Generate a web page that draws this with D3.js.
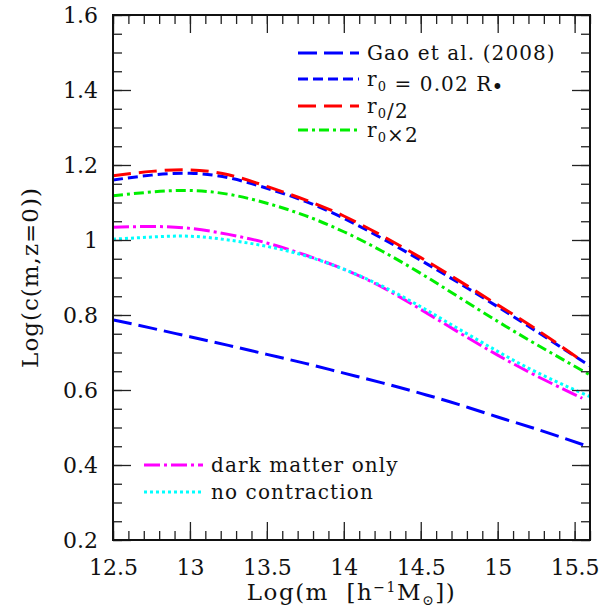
<!DOCTYPE html>
<html>
<head>
<meta charset="utf-8">
<script src="https://cdn.jsdelivr.net/npm/d3@7"></script>
<style>
  body { margin: 0; background: #fff; }
  text { font-family: "DejaVu Serif", serif; fill: #111; }
</style>
</head>
<body>
<div id="chart"></div>
<script>
// ---- data ----
const logM      = [12.5, 12.75, 13, 13.25, 13.5, 13.75, 14, 14.25, 14.5, 14.75, 15, 15.25, 15.6];
const logMShort = [12.5, 12.75, 13, 13.25, 13.5, 13.75, 14, 14.25, 14.5, 14.75, 15, 15.25, 15.55];

const gaoC      = [0.787, 0.765, 0.742, 0.719, 0.695, 0.671, 0.645, 0.619, 0.591, 0.561, 0.528, 0.496, 0.448];
const r0C       = [1.160, 1.173, 1.178, 1.166, 1.138, 1.103, 1.058, 1.004, 0.946, 0.885, 0.822, 0.757, 0.664];
const r0HalfC   = [1.171, 1.183, 1.187, 1.174, 1.143, 1.107, 1.064, 1.011, 0.953, 0.891, 0.827, 0.762, 0.677];
const r0DoubleC = [1.118, 1.128, 1.132, 1.122, 1.098, 1.065, 1.022, 0.970, 0.911, 0.847, 0.783, 0.722, 0.640];
const dmOnlyC   = [1.034, 1.036, 1.031, 1.015, 0.992, 0.960, 0.922, 0.874, 0.815, 0.753, 0.693, 0.638, 0.578];
const noContrC  = [1.002, 1.008, 1.010, 1.000, 0.983, 0.958, 0.922, 0.877, 0.822, 0.762, 0.703, 0.648, 0.582];

const xTicks = [12.5, 13, 13.5, 14, 14.5, 15, 15.5];
const yTicks = [0.2, 0.4, 0.6, 0.8, 1, 1.2, 1.4, 1.6];

// ---- layout ----
const width = 610, height = 614;
const plot = {left: 113, right: 590, top: 15, bottom: 540};

const svg = d3.select("#chart").append("svg")
    .attr("width", width)
    .attr("height", height);

const x = d3.scaleLinear().domain([12.5, 15.6]).range([plot.left, plot.right]);
const y = d3.scaleLinear().domain([0.2, 1.6]).range([plot.bottom, plot.top]);

// clip
svg.append("clipPath").attr("id", "clip")
    .append("rect")
    .attr("x", plot.left).attr("y", plot.top)
    .attr("width", plot.right - plot.left).attr("height", plot.bottom - plot.top);

// series definitions
const series = [
    {m: logM,      c: gaoC,      color: "#0000ff", dash: "19,7"},
    {m: logM,      c: r0C,       color: "#0000ff", dash: "10,5"},
    {m: logMShort, c: r0HalfC,   color: "#ff0000", dash: "18,8"},
    {m: logM,      c: r0DoubleC, color: "#00ee00", dash: "10,4,3,4"},
    {m: logMShort, c: dmOnlyC,   color: "#ff00ff", dash: "16,4,3,4"},
    {m: logM,      c: noContrC,  color: "#00ffff", dash: "3,3"}
];

const line = d3.line()
    .x(d => x(d[0]))
    .y(d => y(d[1]))
    .curve(d3.curveNatural);

const lines = svg.append("g").attr("clip-path", "url(#clip)");
series.forEach(s => {
    lines.append("path")
        .datum(s.m.map((m, i) => [m, s.c[i]]))
        .attr("d", line)
        .attr("fill", "none")
        .attr("stroke", s.color)
        .attr("stroke-width", 3)
        .attr("stroke-dasharray", s.dash);
});

// ---- axes, ticks inward on all four sides ----
const xMinor = d3.range(12.5, 15.61, 0.1).map(v => +v.toFixed(2));
const yMinor = d3.range(0.2, 1.601, 0.05).map(v => +v.toFixed(2));

function drawAxis(axisFn, scale, vals, size, transform, fmt) {
    const g = svg.append("g")
        .attr("transform", transform)
        .call(axisFn(scale).tickValues(vals).tickSize(size).tickSizeOuter(0)
            .tickFormat(fmt || (() => "")));
    g.select(".domain").remove();
    g.selectAll(".tick line").attr("stroke", "#222").attr("stroke-width", 1.3);
    return g;
}

// minor
drawAxis(d3.axisBottom, x, xMinor, -9, `translate(0,${plot.bottom})`);
drawAxis(d3.axisTop,    x, xMinor, -9, `translate(0,${plot.top})`);
drawAxis(d3.axisLeft,   y, yMinor, -9, `translate(${plot.left},0)`);
drawAxis(d3.axisRight,  y, yMinor, -9, `translate(${plot.right},0)`);

// major
const xb = drawAxis(d3.axisBottom, x, xTicks, -18, `translate(0,${plot.bottom})`, d3.format("~g"));
xb.selectAll(".tick text").attr("y", 19).attr("dy", "0.71em").style("font-size", "22px");
drawAxis(d3.axisTop, x, xTicks, -18, `translate(0,${plot.top})`);
const yl = drawAxis(d3.axisLeft, y, yTicks, -18, `translate(${plot.left},0)`, d3.format("~g"));
yl.selectAll(".tick text").attr("x", -15).style("font-size", "22px");
drawAxis(d3.axisRight, y, yTicks, -18, `translate(${plot.right},0)`);

// frame
svg.append("rect")
    .attr("x", plot.left).attr("y", plot.top)
    .attr("width", plot.right - plot.left).attr("height", plot.bottom - plot.top)
    .attr("fill", "none").attr("stroke", "#111").attr("stroke-width", 2);

// axis titles
const xt = svg.append("text")
    .attr("x", (plot.left + plot.right) / 2)
    .attr("y", 600)
    .attr("text-anchor", "middle")
    .style("font-size", "23px")
    .style("letter-spacing", "1.5px")
    .style("white-space", "pre");
xt.append("tspan").text("Log(m  [h");
xt.append("tspan").attr("dy", -8).style("font-size", "14px").text("−1");
xt.append("tspan").attr("dy", 8).text("M");
xt.append("tspan").attr("dy", 5).style("font-size", "14px").text("⊙");
xt.append("tspan").attr("dy", -5).text("])");

svg.append("text")
    .attr("transform", `translate(38,${(plot.top + plot.bottom) / 2}) rotate(-90)`)
    .attr("text-anchor", "middle")
    .style("font-size", "23px")
    .style("letter-spacing", "1px")
    .text("Log(c(m,z=0))");

// ---- legends ----
function legendRow(x0, x1, yy, s, build) {
    svg.append("line")
        .attr("x1", x0).attr("x2", x1).attr("y1", yy).attr("y2", yy)
        .attr("stroke", s.color).attr("stroke-width", 3)
        .attr("stroke-dasharray", s.dash);
    const t = svg.append("text")
        .attr("x", x1 + 8).attr("y", yy + 7)
        .style("font-size", "20px")
        .style("letter-spacing", "1.1px")
        .style("white-space", "pre");
    build(t);
}

function subR0(t) {
    t.append("tspan").text("r");
    t.append("tspan").attr("dy", 5).style("font-size", "13px").text("0");
    t.append("tspan").attr("dy", -5).text("");
}

legendRow(298, 359, 53, series[0], t => t.text("Gao et al. (2008)"));
legendRow(298, 359, 79, series[1], t => {
    subR0(t);
    t.append("tspan").text(" = 0.02 R");
    t.append("tspan").attr("dy", 3).attr("dx", -1).style("font-size", "20px").text("•");
});
legendRow(298, 359, 106, series[2], t => { subR0(t); t.append("tspan").text("/2"); });
legendRow(298, 359, 130, series[3], t => { subR0(t); t.append("tspan").text("×2"); });

legendRow(144, 203, 465, series[4], t => t.text("dark matter only"));
legendRow(144, 203, 492, series[5], t => t.text("no contraction"));
</script>
</body>
</html>
